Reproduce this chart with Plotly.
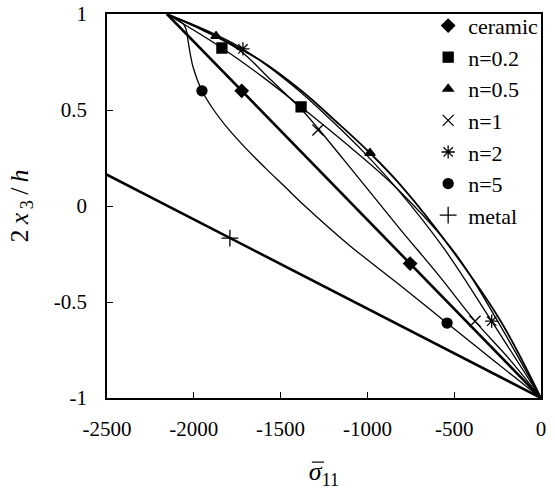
import plotly.graph_objects as go

# ---- data ----
ceramic_x = [-2155, 0]
ceramic_y = [1, -1]
ceramic_mx = [-1724, -754]
ceramic_my = [0.6, -0.3]

metal_x = [-4300, 0]
metal_y = [1, -1]
metal_mx = [-1792]
metal_my = [-0.167]

n02_x = [-2155, -1838, -1600, -1382, -1090, -840, -491, -250, 0]
n02_y = [1, 0.823, 0.67, 0.516, 0.3, 0.1, -0.25, -0.6, -1]
n02_mx = [-1838, -1382]
n02_my = [0.823, 0.516]

n05_x = [-2155, -1872, -1620, -1380, -1180, -985, -800, -520, -232, 0]
n05_y = [1, 0.885, 0.76, 0.6, 0.44, 0.276, 0.1, -0.22, -0.6, -1]
n05_mx = [-1872, -985]
n05_my = [0.885, 0.276]

n1_x = [-2155, -1960, -1820, -1720, -1560, -1382, -1285, -1050, -812, -590, -380, -180, 0]
n1_y = [1, 0.92, 0.857, 0.8, 0.66, 0.505, 0.405, 0.145, -0.12, -0.36, -0.6, -0.8, -1]
n1_mx = [-1285, -380]
n1_my = [0.396, -0.6]

n2_x = [-2155, -1940, -1717, -1420, -1200, -1010, -820, -560, -284, 0]
n2_y = [1, 0.92, 0.818, 0.62, 0.44, 0.27, 0.08, -0.22, -0.6, -1]
n2_mx = [-1717, -284]
n2_my = [0.818, -0.6]

n5_x = [-2155, -2100, -2062, -2044, -2033, -2018, -2003, -1953, -1885,
        -1800, -1700, -1590, -1475, -1360, -1110, -830, -555, -280, 0]
n5_y = [1, 0.972, 0.95, 0.92, 0.86, 0.78, 0.72, 0.6, 0.5,
        0.4, 0.3, 0.2, 0.1, 0.0, -0.2, -0.4, -0.6, -0.8, -1]
n5_mx = [-1953, -541]
n5_my = [0.6, -0.61]

x_ticks = [-2500, -2000, -1500, -1000, -500, 0]
x_labels = ["-2500", "-2000", "-1500", "-1000", "-500", "0"]
y_ticks = [1, 0.5, 0, -0.5, -1]
y_labels = ["1", "0.5", "0", "-0.5", "-1"]

FONT = "Liberation Serif, Times New Roman, Times, serif"
BLACK = "black"

fig = go.Figure()

lines = [
    (ceramic_x, ceramic_y, 2.6),
    (metal_x, metal_y, 2.6),
    (n02_x, n02_y, 1.3),
    (n05_x, n05_y, 1.8),
    (n1_x, n1_y, 1.3),
    (n2_x, n2_y, 1.3),
    (n5_x, n5_y, 1.3),
]
for lx, ly, w in lines:
    fig.add_trace(go.Scatter(x=lx, y=ly, mode="lines", showlegend=False,
                             line=dict(color=BLACK, width=w, shape="spline", smoothing=1.0),
                             hoverinfo="skip"))

markers = [
    ("ceramic", ceramic_mx, ceramic_my, "diamond", 10),
    ("n=0.2", n02_mx, n02_my, "square", 10),
    ("n=0.5", n05_mx, n05_my, "triangle-up", 9),
    ("n=1", n1_mx, n1_my, "x-thin", 11),
    ("n=2", n2_mx, n2_my, "asterisk", 11),
    ("n=5", n5_mx, n5_my, "circle", 10),
    ("metal", metal_mx, metal_my, "cross-thin", 12),
]
for name, mx, my, sym, sz in markers:
    fig.add_trace(go.Scatter(x=mx, y=my, mode="markers", name=name,
                             marker=dict(symbol=sym, size=sz, color=BLACK,
                                         line=dict(color=BLACK, width=1.3))))

fig.update_layout(
    width=555, height=492,
    margin=dict(l=107, r=14, t=14, b=94, autoexpand=False),
    paper_bgcolor="white", plot_bgcolor="white",
    font=dict(family=FONT, size=21, color=BLACK),
    legend=dict(x=0.74, xanchor="left", y=1.024, yanchor="top",
                bgcolor="rgba(0,0,0,0)", font=dict(family=FONT, size=22, color=BLACK),
                itemwidth=30, tracegroupgap=0),
    shapes=[dict(type="line", xref="paper", yref="paper",
                 x0=0.472, x1=0.500, y0=-0.167, y1=-0.167,
                 line=dict(color=BLACK, width=1.2))],
)
fig.update_xaxes(range=[-2500, 0], tickvals=x_ticks, ticktext=x_labels,
                 ticks="inside", ticklen=6, tickwidth=1, tickcolor=BLACK,
                 tickfont=dict(family=FONT, size=21, color=BLACK),
                 showline=True, linecolor=BLACK, linewidth=1.5, mirror=True,
                 showgrid=False, zeroline=False, ticklabelstandoff=11,
                 title=dict(text="<i>σ</i><sub>11</sub>",
                            font=dict(family=FONT, size=26, color=BLACK), standoff=22))
fig.update_yaxes(range=[-1, 1], tickvals=y_ticks, ticktext=y_labels,
                 ticks="inside", ticklen=6, tickwidth=1, tickcolor=BLACK,
                 tickfont=dict(family=FONT, size=21, color=BLACK),
                 showline=True, linecolor=BLACK, linewidth=1.5, mirror=True,
                 showgrid=False, zeroline=False, ticklabelstandoff=14,
                 title=dict(text="2\u2009<i>x</i><sub>\u20093</sub>\u2009/\u2009<i>h</i>",
                            font=dict(family=FONT, size=26, color=BLACK), standoff=18))

fig.write_html("out.html")
